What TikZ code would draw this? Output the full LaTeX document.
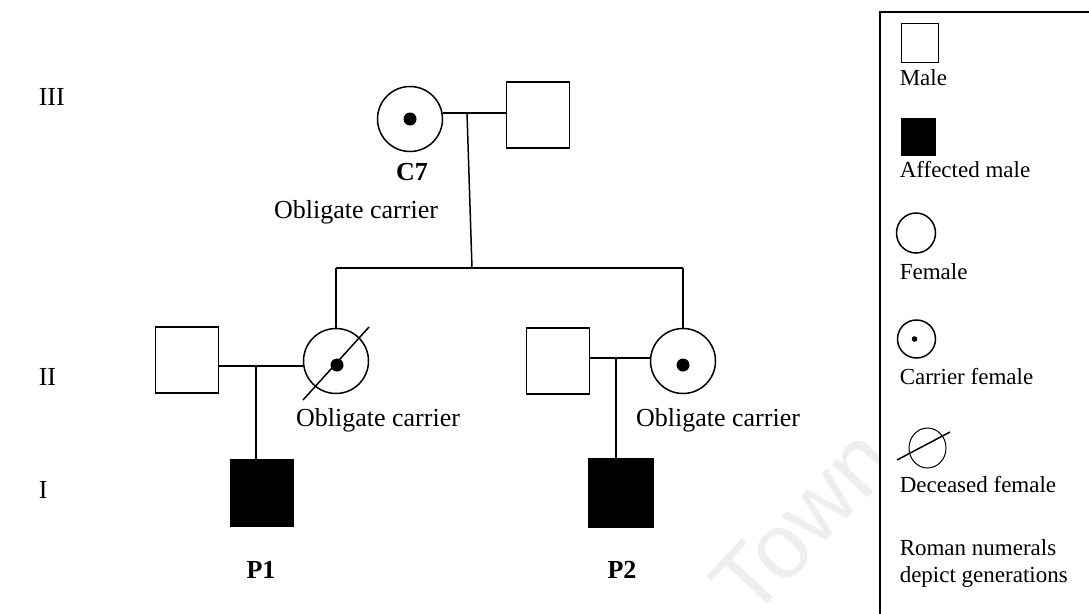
\documentclass[tikz,border=0pt]{standalone}
\usepackage{fontspec}
\setmainfont{Liberation Serif}
\newfontfamily\wmfont{Liberation Sans}
\usetikzlibrary{shapes.geometric}

\begin{document}
\begin{tikzpicture}[x=1pt,y=-1pt,line width=1.5pt,
    male/.style={draw,rectangle,minimum width=63pt,minimum height=66pt,inner sep=0pt},
    affected/.style={male,fill=black},
    female/.style={draw,circle,minimum size=65pt,inner sep=0pt},
    lbl/.style={font=\fontsize{26}{30}\selectfont,inner sep=0pt},
    key/.style={font=\fontsize{23}{27}\selectfont,inner sep=0pt,anchor=west}]

            \useasboundingbox (0,0) rectangle (1089,613);
            \clip (0,0) rectangle (1089,613);

            % watermark
            \node [rotate=47,text=gray!13,font=\wmfont\fontsize{92}{96}\selectfont] (wm) at (802,522) {Town};

            % generations
            \node [lbl,anchor=west] (g3) at (38,97) {III};
            \node [lbl,anchor=west] (g2) at (38,377) {II};
            \node [lbl,anchor=west] (g1) at (38,490) {I};

            % III
            \node [female] (c7) at (410,119) {};
            \fill (c7.center) circle (6.5pt);
            \node [male] (c7hus) at (538,115) {};
            \node [lbl,font=\fontsize{26}{30}\selectfont\bfseries] (c7lbl) at (412,172) {C7};
            \node [lbl] (obl1) at (356,212) {Obligate carrier};

            % II
            \node [male] (lhus) at (187,360) {};
            \node [female] (ldau) at (336,361) {};
            \fill ([shift={(1,4)}]ldau.center) circle (6.5pt);
            \draw ([shift={(-33,39)}]ldau.center) -- ([shift={(33,-34)}]ldau.center);
            \node [lbl] (obl2) at (378,420) {Obligate carrier};

            \node [male] (rhus) at (558,361) {};
            \node [female] (rdau) at (683,361) {};
            \fill ([shift={(0,4)}]rdau.center) circle (6.5pt);
            \node [lbl] (obl3) at (718,420) {Obligate carrier};

            % I
            \node [affected,minimum height=67pt] (p1) at (262,493) {};
            \node [affected,minimum width=64pt,minimum height=68pt] (p2) at (621,493) {};
            \node [lbl,font=\fontsize{26}{30}\selectfont\bfseries] (p1lbl) at (261,570) {P1};
            \node [lbl,font=\fontsize{26}{30}\selectfont\bfseries] (p2lbl) at (622,570) {P2};

            % lines
            \coordinate (m1) at (467,113);
            \coordinate (sib) at (472,268);
            \coordinate (m2) at (256,366);
            \coordinate (m3) at (616,358);

            \draw (c7.east |- m1) -- (c7hus.west |- m1);
            \draw (m1) -- (sib);
            \draw (ldau.north |- sib) -- (rdau.north |- sib);
            \draw (ldau.north |- sib) -- (ldau.north);
            \draw (rdau.north |- sib) -- (rdau.north);

            \draw (lhus.east |- m2) -- (ldau.west |- m2);
            \draw (m2) -- (m2 |- p1.north);
            \draw (rhus.east |- m3) -- (rdau.west |- m3);
            \draw (m3) -- (m3 |- p2.north);

            % key
            \draw [fill=white] (880,12) rectangle (1120,640);
            \node [draw,line width=1pt,minimum width=37pt,minimum height=39pt,inner sep=0pt] (kmale) at (919.5,42.5) {};
            \node [key] (kmalet) at (899,78) {Male};
            \node [fill=black,minimum width=35pt,minimum height=38pt,inner sep=0pt] (kaff) at (918.5,137) {};
            \node [key] (kafft) at (899,170) {Affected male};
            \node [draw,ellipse,minimum width=39pt,minimum height=40pt,inner sep=0pt] (kfem) at (916,233) {};
            \node [key] (kfemt) at (899,272) {Female};
            \node [draw,circle,minimum size=38pt,inner sep=0pt] (kcar) at (916.5,339) {};
            \fill ([xshift=-2pt]kcar.center) circle (2.8pt);
            \node [key] (kcart) at (899,377) {Carrier female};
            \node [draw,ellipse,line width=1pt,minimum width=37pt,minimum height=40pt,inner sep=0pt] (kdec) at (927.5,448) {};
            \draw ([shift={(-30.5,12)}]kdec.center) -- ([shift={(22.5,-16)}]kdec.center);
            \node [key] (kdect) at (899,485) {Deceased female};
            \node [key,align=left] (kgen) at (899,563.5) {Roman numerals\\depict generations};
        \end{tikzpicture}
\end{document}
